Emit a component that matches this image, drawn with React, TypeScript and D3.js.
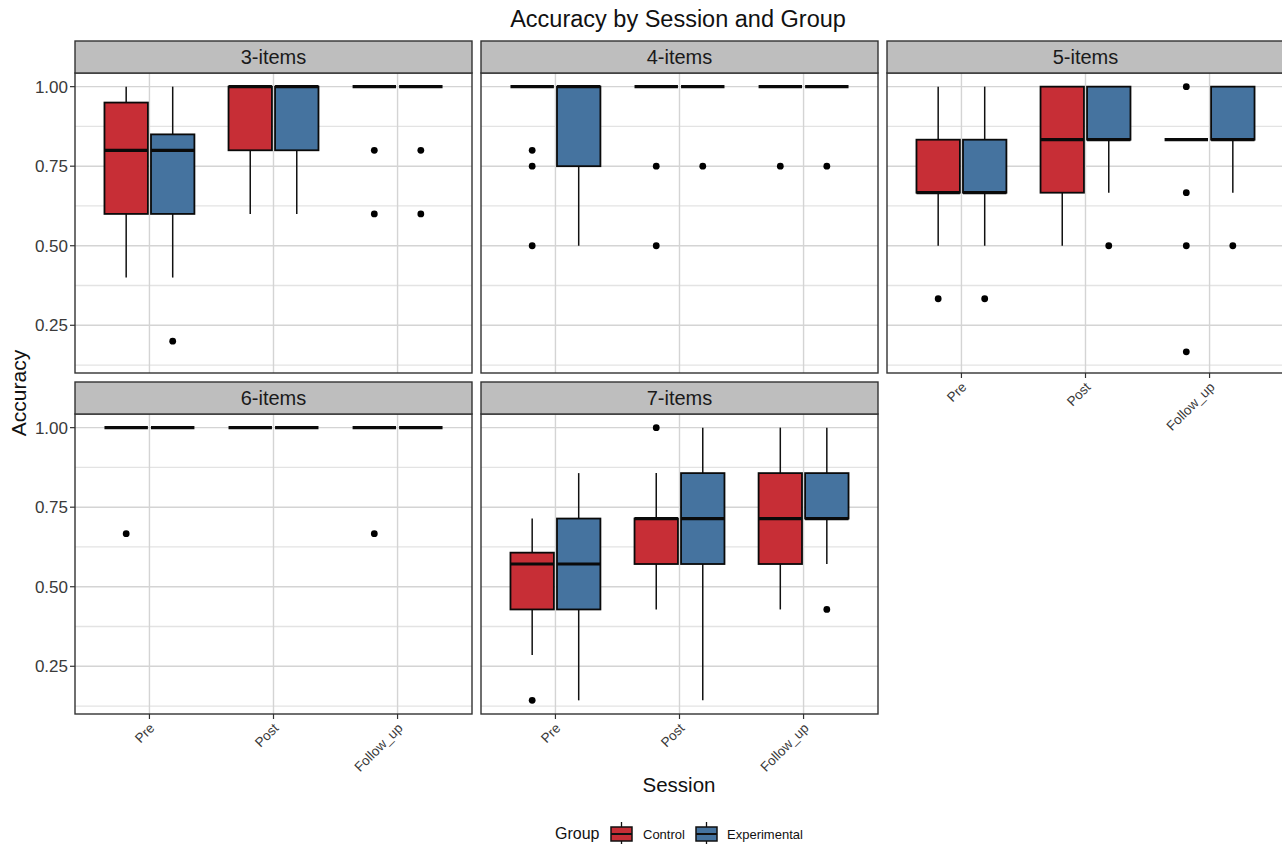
import * as d3 from 'd3';
import React from 'react';

const facets = ["3-items", "4-items", "5-items", "6-items", "7-items"];
const sessions = ["Pre", "Post", "Follow_up"];
const groups = ["Control", "Experimental"];
const yTicks = [0.25, 0.5, 0.75, 1.0];
const yMinor = [0.125, 0.375, 0.625, 0.875];

// box stats per session: [Control, Experimental], each [low, q1, median, q3, high]
const box3 = [
  [[0.4, 0.6, 0.8, 0.95, 1], [0.4, 0.6, 0.8, 0.85, 1]],
  [[0.6, 0.8, 1, 1, 1], [0.6, 0.8, 1, 1, 1]],
  [[1, 1, 1, 1, 1], [1, 1, 1, 1, 1]],
];
const box4 = [
  [[1, 1, 1, 1, 1], [0.5, 0.75, 1, 1, 1]],
  [[1, 1, 1, 1, 1], [1, 1, 1, 1, 1]],
  [[1, 1, 1, 1, 1], [1, 1, 1, 1, 1]],
];
const box5 = [
  [[0.5, 0.6667, 0.6667, 0.8333, 1], [0.5, 0.6667, 0.6667, 0.8333, 1]],
  [[0.5, 0.6667, 0.8333, 1, 1], [0.6667, 0.8333, 0.8333, 1, 1]],
  [[0.8333, 0.8333, 0.8333, 0.8333, 0.8333], [0.6667, 0.8333, 0.8333, 1, 1]],
];
const box6 = [
  [[1, 1, 1, 1, 1], [1, 1, 1, 1, 1]],
  [[1, 1, 1, 1, 1], [1, 1, 1, 1, 1]],
  [[1, 1, 1, 1, 1], [1, 1, 1, 1, 1]],
];
const box7 = [
  [[0.2857, 0.4286, 0.5714, 0.6071, 0.7143], [0.1429, 0.4286, 0.5714, 0.7143, 0.8571]],
  [[0.4286, 0.5714, 0.7143, 0.7143, 0.8571], [0.1429, 0.5714, 0.7143, 0.8571, 1]],
  [[0.4286, 0.5714, 0.7143, 0.8571, 1], [0.5714, 0.7143, 0.7143, 0.8571, 1]],
];

// outliers per session: [Control, Experimental]
const out3 = [[[], [0.2]], [[], []], [[0.8, 0.6], [0.8, 0.6]]];
const out4 = [[[0.8, 0.75, 0.5], []], [[0.75, 0.5], [0.75]], [[0.75], [0.75]]];
const out5 = [[[0.3333], [0.3333]], [[], [0.5]], [[1, 0.6667, 0.5, 0.1667], [0.5]]];
const out6 = [[[0.6667], []], [[], []], [[0.6667], []]];
const out7 = [[[0.1429], []], [[1], []], [[], [0.4286]]];

const allBoxes = [box3, box4, box5, box6, box7];
const allOutliers = [out3, out4, out5, out6, out7];

const fillColors = ["#C72E36", "#45739F"];
const font = "'Liberation Sans', Arial, Helvetica, sans-serif";

const colX = [75, 481, 887];
const rowY = [41, 382];
const panelW = 397;
const panelH = 300;
const stripH = 32;

function Panel({ idx }: { idx: number }) {
  const row = Math.floor(idx / 3);
  const col = idx % 3;
  const left = colX[col];
  const stripTop = rowY[row];
  const top = stripTop + stripH;
  const bottom = top + panelH;

  const x = d3.scalePoint<string>().domain(sessions).range([left, left + panelW]).padding(0.6);
  const step = x.step();
  const dodge = d3.scalePoint<string>().domain(groups).range([-0.1875 * step, 0.1875 * step]);
  const boxW = 0.35 * step;
  const y = d3.scaleLinear().domain([0.1, 1.0429]).range([bottom, top]);

  const showX = row === 1 || col === 2;
  const showY = col === 0;

  return (
    <g>
      {/* panel background & grid */}
      <rect x={left} y={top} width={panelW} height={panelH} fill="#fff" />
      {yMinor.map((v) => (
        <line key={"mi" + v} x1={left} x2={left + panelW} y1={y(v)} y2={y(v)} stroke="#E3E3E3" strokeWidth={1.3} />
      ))}
      {yTicks.map((v) => (
        <line key={"ma" + v} x1={left} x2={left + panelW} y1={y(v)} y2={y(v)} stroke="#D4D4D4" strokeWidth={1.4} />
      ))}
      {sessions.map((s) => (
        <line key={"vx" + s} x1={x(s)} x2={x(s)} y1={top} y2={bottom} stroke="#D4D4D4" strokeWidth={1.4} />
      ))}

      {/* boxes */}
      {sessions.map((s, si) =>
        groups.map((g, gi) => {
          const [lo, q1, med, q3, hi] = allBoxes[idx][si][gi];
          const cx = (x(s) as number) + (dodge(g) as number);
          const outs = allOutliers[idx][si][gi];
          return (
            <g key={s + g}>
              <line x1={cx} x2={cx} y1={y(hi)} y2={y(q3)} stroke="#111" strokeWidth={1.5} />
              <line x1={cx} x2={cx} y1={y(q1)} y2={y(lo)} stroke="#111" strokeWidth={1.5} />
              <rect
                x={cx - boxW / 2}
                y={y(q3)}
                width={boxW}
                height={Math.max(0, y(q1) - y(q3))}
                fill={fillColors[gi]}
                stroke="#0A0A0A"
                strokeWidth={1.8}
              />
              <line x1={cx - boxW / 2} x2={cx + boxW / 2} y1={y(med)} y2={y(med)} stroke="#0A0A0A" strokeWidth={3.2} />
              {outs.map((o, oi) => (
                <circle key={oi} cx={cx} cy={y(o)} r={3.4} fill="#000" />
              ))}
            </g>
          );
        })
      )}

      {/* panel border */}
      <rect x={left} y={top} width={panelW} height={panelH} fill="none" stroke="#333" strokeWidth={1.4} />

      {/* strip */}
      <rect x={left} y={stripTop} width={panelW} height={stripH} fill="#BEBEBE" stroke="#333" strokeWidth={1.4} />
      <text
        x={left + panelW / 2}
        y={stripTop + stripH / 2 + 7}
        textAnchor="middle"
        fontFamily={font}
        fontSize={20}
        fill="#1A1A1A"
      >
        {facets[idx]}
      </text>

      {showY &&
        yTicks.map((v) => (
          <g key={"yt" + v}>
            <line x1={left - 5} x2={left} y1={y(v)} y2={y(v)} stroke="#333" strokeWidth={1.2} />
            <text x={left - 7} y={y(v) + 6} textAnchor="end" fontFamily={font} fontSize={17} fill="#3A3A3A">
              {d3.format(".2f")(v)}
            </text>
          </g>
        ))}

      {showX &&
        sessions.map((s) => (
          <g key={"xt" + s}>
            <line x1={x(s)} x2={x(s)} y1={bottom} y2={bottom + 5} stroke="#333" strokeWidth={1.2} />
            <text
              transform={`translate(${(x(s) as number) + 6},${bottom + 15}) rotate(-45)`}
              textAnchor="end"
              fontFamily={font}
              fontSize={13.5}
              fill="#3A3A3A"
            >
              {s}
            </text>
          </g>
        ))}
    </g>
  );
}

function LegendKey({ x, yc, fill }: { x: number; yc: number; fill: string }) {
  const w = 21;
  const h = 14;
  return (
    <g>
      <line x1={x + w / 2} x2={x + w / 2} y1={yc - h / 2 - 5} y2={yc + h / 2 + 5} stroke="#111" strokeWidth={1.3} />
      <rect x={x} y={yc - h / 2} width={w} height={h} fill={fill} stroke="#111" strokeWidth={1.5} />
      <line x1={x} x2={x + w} y1={yc} y2={yc} stroke="#111" strokeWidth={2} />
    </g>
  );
}

export default function App() {
  return (
    <svg
      width={1282}
      height={844}
      style={{ position: "absolute", left: 0, top: 0, background: "#fff" }}
    >
      <rect width={1282} height={844} fill="#fff" />
      <text x={678} y={27} textAnchor="middle" fontFamily={font} fontSize={23.5} fill="#111">
        Accuracy by Session and Group
      </text>

      {facets.map((f, i) => (
        <Panel key={f} idx={i} />
      ))}

      <text
        transform="translate(26,393) rotate(-90)"
        textAnchor="middle"
        fontFamily={font}
        fontSize={21}
        fill="#111"
      >
        Accuracy
      </text>
      <text x={679} y={792} textAnchor="middle" fontFamily={font} fontSize={20.5} fill="#111">
        Session
      </text>

      {/* legend */}
      <text x={555} y={839} fontFamily={font} fontSize={16} fill="#111">
        Group
      </text>
      <LegendKey x={611} yc={834} fill={fillColors[0]} />
      <text x={643} y={838.5} fontFamily={font} fontSize={13} fill="#111">
        {groups[0]}
      </text>
      <LegendKey x={696} yc={834} fill={fillColors[1]} />
      <text x={727} y={838.5} fontFamily={font} fontSize={13} fill="#111">
        {groups[1]}
      </text>
    </svg>
  );
}
